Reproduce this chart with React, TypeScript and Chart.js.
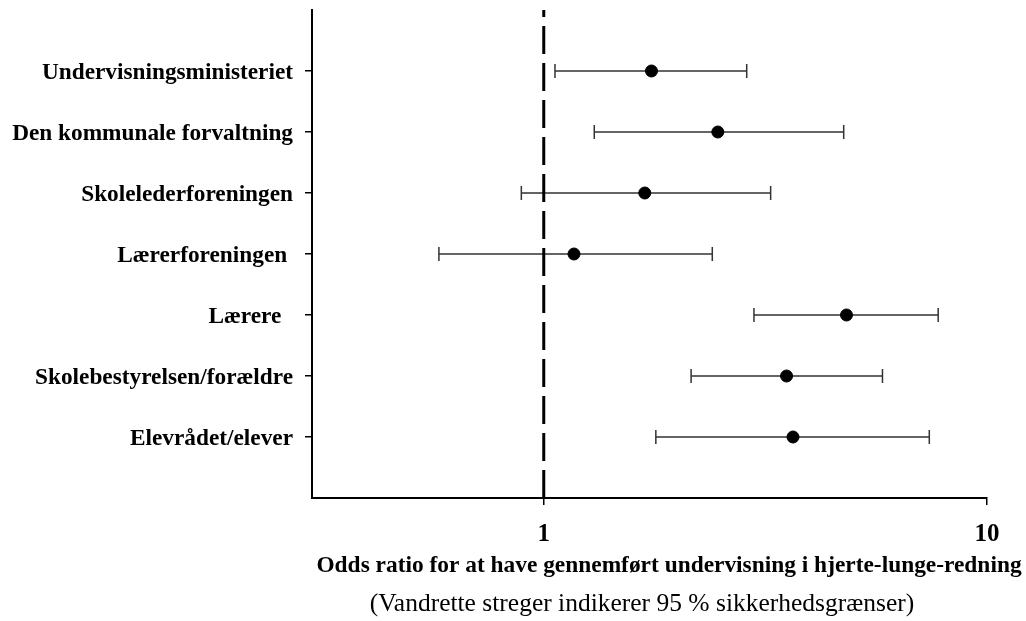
import { useEffect, useRef } from 'react';
import { Chart, registerables } from 'chart.js';

Chart.register(...registerables);

const categories = [
  'Undervisningsministeriet',
  'Den kommunale forvaltning',
  'Skolelederforeningen',
  'Lærerforeningen ',
  'Lærere  ',
  'Skolebestyrelsen/forældre',
  'Elevrådet/elever',
];
const oddsRatios = [1.75, 2.47, 1.69, 1.17, 4.82, 3.53, 3.65];
const lowerCI = [1.06, 1.3, 0.89, 0.58, 2.98, 2.15, 1.79];
const upperCI = [2.87, 4.75, 3.25, 2.4, 7.76, 5.81, 7.41];
const xTickValues = [1, 10];
const xMin = 0.304;
const xMax = 10;
const referenceValue = 1;
const xTitle = 'Odds ratio for at have gennemført undervisning i hjerte-lunge-redning';
const xSubtitle = '(Vandrette streger indikerer 95 % sikkerhedsgrænser)';

const SERIF = "'Liberation Serif', 'Times New Roman', serif";

const forestPlugin = {
  id: 'forest',
  beforeDatasetsDraw(chart: any) {
    const { ctx, chartArea, scales } = chart;
    const xs = scales.x;
    const ys = scales.y;
    ctx.save();
    ctx.strokeStyle = '#333';
    ctx.lineWidth = 1.5;
    for (let i = 0; i < categories.length; i++) {
      const y = ys.getPixelForValue(i + 1);
      const x1 = xs.getPixelForValue(lowerCI[i]);
      const x2 = xs.getPixelForValue(upperCI[i]);
      ctx.beginPath();
      ctx.moveTo(x1, y);
      ctx.lineTo(x2, y);
      ctx.moveTo(x1, y - 7);
      ctx.lineTo(x1, y + 7);
      ctx.moveTo(x2, y - 7);
      ctx.lineTo(x2, y + 7);
      ctx.stroke();
    }
    const rx = xs.getPixelForValue(referenceValue);
    ctx.strokeStyle = '#000';
    ctx.lineWidth = 3;
    ctx.setLineDash([28, 9]);
    ctx.beginPath();
    ctx.moveTo(rx, chartArea.bottom);
    ctx.lineTo(rx, chartArea.top);
    ctx.stroke();
    ctx.restore();
  },
  afterDraw(chart: any) {
    const { ctx } = chart;
    ctx.save();
    ctx.fillStyle = '#000';
    ctx.textAlign = 'center';
    ctx.textBaseline = 'middle';
    ctx.font = `bold 23.4px ${SERIF}`;
    ctx.fillText(xTitle, 669, 566);
    ctx.font = `25.5px ${SERIF}`;
    ctx.fillText(xSubtitle, 642, 604);
    ctx.restore();
  },
};

export default function App() {
  const canvasRef = useRef<HTMLCanvasElement | null>(null);

  useEffect(() => {
    document.body.style.margin = '0';
    const canvas = canvasRef.current;
    if (!canvas) return;
    const chart = new Chart(canvas, {
      type: 'scatter',
      data: {
        datasets: [
          {
            data: oddsRatios.map((v, i) => ({ x: v, y: i + 1 })),
            backgroundColor: '#000',
            borderColor: '#000',
            pointRadius: 6,
            pointHoverRadius: 6,
          },
        ],
      },
      options: {
        responsive: false,
        animation: false,
        layout: { padding: { top: 10, right: 39, left: 0, bottom: 0 } },
        plugins: {
          legend: { display: false },
          tooltip: { enabled: false },
        },
        scales: {
          x: {
            type: 'logarithmic',
            min: xMin,
            max: xMax,
            afterBuildTicks: (axis: any) => {
              axis.ticks = xTickValues.map((v) => ({ value: v }));
            },
            afterFit: (scale: any) => {
              scale.height = 123;
              scale.paddingLeft = 0;
              scale.paddingRight = 0;
            },
            ticks: {
              autoSkip: false,
              maxRotation: 0,
              padding: 15,
              color: '#000',
              font: { family: SERIF, size: 25, weight: 'bold' },
              callback: (v: any) => String(v),
            },
            grid: {
              drawOnChartArea: false,
              drawTicks: true,
              tickLength: 7,
              color: '#000',
              lineWidth: 1.5,
            },
            border: { display: true, color: '#000', width: 2 },
          },
          y: {
            type: 'linear',
            min: 0,
            max: 8,
            reverse: true,
            afterBuildTicks: (axis: any) => {
              axis.ticks = categories.map((_, i) => ({ value: i + 1 }));
            },
            afterFit: (scale: any) => {
              scale.width = 312;
              scale.paddingTop = 0;
              scale.paddingBottom = 0;
            },
            ticks: {
              autoSkip: false,
              padding: 12,
              labelOffset: 2,
              color: '#000',
              font: { family: SERIF, size: 23.3, weight: 'bold' },
              callback: (v: any) => categories[Number(v) - 1] ?? '',
            },
            grid: {
              drawOnChartArea: false,
              drawTicks: true,
              tickLength: 7,
              color: '#000',
              lineWidth: 1.5,
            },
            border: { display: true, color: '#000', width: 2 },
          },
        },
      },
      plugins: [forestPlugin],
    });
    return () => chart.destroy();
  }, []);

  return (
    <div style={{ width: 1026, height: 621, background: '#fff' }}>
      <canvas ref={canvasRef} width={1026} height={621} />
    </div>
  );
}
